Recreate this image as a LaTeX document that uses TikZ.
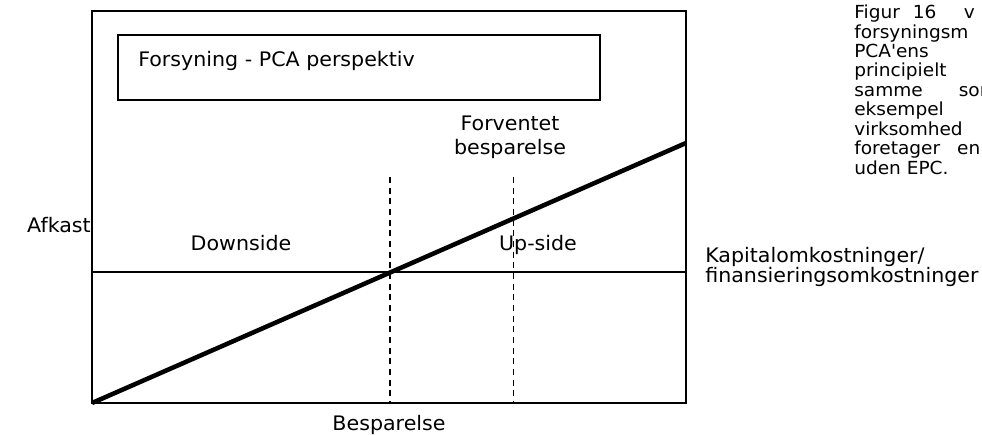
\documentclass[tikz,border=0pt]{standalone}
\usepackage{fontspec}
\setmainfont{DejaVu Sans}[FakeStretch=1.03]
\usetikzlibrary{positioning}

\tikzset{
    lbl/.style={font=\fontsize{15pt}{18pt}\selectfont, inner sep=0pt},
    note/.style={font=\fontsize{13.5pt}{14.6pt}\selectfont, inner sep=0pt},
    guide/.style={line width=1.1pt, dash pattern=on 4.5pt off 3.5pt},
}

\begin{document}
\begin{tikzpicture}[x=0.75pt, y=-0.75pt]
    \useasboundingbox (0,0) rectangle (982,435);

    % Frame and corners
    \coordinate (O) at (92,403);
    \coordinate (TR) at (686,11);
    \coordinate (costL) at (92,272);
    \coordinate (costR) at (686,272);
    \coordinate (lineEnd) at (686,143);
    \coordinate (breakTop) at (390,177);
    \coordinate (breakBot) at (390,403);
    \coordinate (expTop) at (513.5,177);
    \coordinate (expBot) at (513.5,403);
    \draw[line width=1.5pt] (O) rectangle (TR);

    % Title box
    \coordinate (boxNW) at (118,35.5);
    \coordinate (boxSE) at (600,100);
    \draw[line width=1.5pt] (boxNW) rectangle (boxSE);
    \node[lbl, anchor=base west] (title) at (138,66.3) {Forsyning - PCA perspektiv};

    % Cost level and break-even
    \draw[line width=1.2pt] (costL) -- (costR);
    \draw[guide] (breakTop) -- (breakBot);
    \draw[guide] (expTop) -- (expBot);
    \draw[line width=3.4pt] (O) -- (lineEnd);

    % Labels
    \node[lbl, align=center] (expected) at (510,137) {Forventet\\besparelse};
    \node[lbl, anchor=base] (down) at (241,250.3) {Downside};
    \node[lbl, anchor=base] (up) at (538,250.3) {Up-side};
    \node[lbl, anchor=base] (yield) at (59,232) {Afkast};
    \node[lbl, anchor=base] (saving) at (389,430) {Besparelse};
    \node[lbl, font=\fontsize{15pt}{15pt}\selectfont, anchor=north west, align=left] (cost) at (705,246.8)
        {Kapitalomkostninger/\\finansieringsomkostninger};

    % Caption text beside the figure
    \node[note, anchor=north west, align=left] (caption) at (854,4.6)
        {Figur\hspace{9.8pt}16\hspace{20.5pt}v\\forsyningsm\\PCA\textquotesingle ens\\principielt\\samme\hspace{27pt}som\\eksempel\\virksomhed\\foretager\hspace{12.8pt}en\\uden EPC.};
\end{tikzpicture}
\end{document}
